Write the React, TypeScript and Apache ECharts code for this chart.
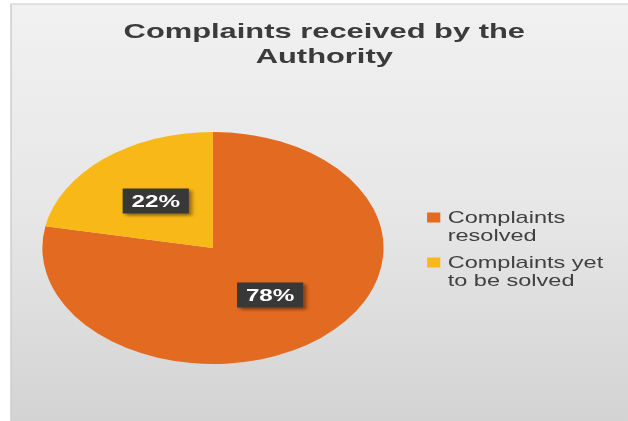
import React, { useEffect, useRef } from 'react';
import * as echarts from 'echarts';

// ---- data ----
const categories = ['Complaints resolved', 'Complaints yet to be solved'];
const legendLines = ['Complaints\nresolved', 'Complaints yet\nto be solved'];
const shares = [78, 22];
const sliceColors = ['#E36B21', '#F8B818'];
const titleText = 'Complaints received by the\nAuthority';

// ---- layout ----
const PAGE_W = 628;
const PAGE_H = 421;
const STRETCH = 1.4707; // the reference is stretched horizontally
const CHART_W = PAGE_W / STRETCH;
const FONT = '"Liberation Sans", Arial, Helvetica, sans-serif';
const legendTops = [190.5, 235.5];

export default function App() {
  const ref = useRef<HTMLDivElement>(null);

  useEffect(() => {
    const chart = echarts.init(ref.current as HTMLDivElement, null, {
      renderer: 'svg',
      width: CHART_W,
      height: PAGE_H,
    });
    chart.setOption({
      animation: false,
      backgroundColor: '#ffffff',
      graphic: {
        elements: [
          {
            type: 'rect',
            z: 0,
            silent: true,
            shape: { x: 7.5, y: 4, width: CHART_W + 10, height: PAGE_H + 10 },
            style: {
              fill: new echarts.graphic.LinearGradient(0, 0, 0, 1, [
                { offset: 0, color: '#f1f1f1' },
                { offset: 0.5, color: '#e6e6e6' },
                { offset: 1, color: '#d2d2d2' },
              ]),
              stroke: '#cccccc',
              lineWidth: 1,
            },
          },
        ],
      },
      title: {
        text: titleText,
        left: 220.5,
        top: 18,
        padding: 0,
        textAlign: 'center',
        textStyle: {
          fontSize: 21,
          fontWeight: 'bold',
          color: '#3b3b3b',
          lineHeight: 25,
          fontFamily: FONT,
        },
      },
      legend: categories.map((name, i) => ({
        data: [name],
        orient: 'vertical',
        left: 290.4,
        top: legendTops[i],
        padding: 0,
        itemWidth: 9,
        itemHeight: 10,
        itemGap: 0,
        icon: 'rect',
        selectedMode: false,
        formatter: () => '\n' + legendLines[i],
        textStyle: {
          fontSize: 16,
          lineHeight: 18,
          color: '#404040',
          fontFamily: FONT,
        },
      })),
      series: [
        {
          type: 'pie',
          center: [144.8, 248],
          radius: 116,
          startAngle: 90,
          clockwise: true,
          silent: true,
          color: sliceColors,
          data: categories.map((name, i) => ({ name, value: shares[i] })),
          itemStyle: { borderWidth: 0 },
          label: {
            show: true,
            position: 'inside',
            formatter: (p: any) => `${p.value}%`,
            color: '#ffffff',
            fontSize: 16.5,
            fontWeight: 'bold',
            fontFamily: FONT,
            lineHeight: 17,
            backgroundColor: '#383838',
            padding: [4, 6, 4, 6],
            shadowBlur: 3,
            shadowOffsetX: 2,
            shadowOffsetY: 2,
            shadowColor: 'rgba(0,0,0,0.45)',
          },
          labelLine: { show: false },
          emphasis: { disabled: true },
        },
      ],
    });
    return () => chart.dispose();
  }, []);

  return (
    <div
      style={{
        position: 'absolute',
        left: 0,
        top: 0,
        width: PAGE_W,
        height: PAGE_H,
        overflow: 'hidden',
        background: '#ffffff',
      }}
    >
      <div
        ref={ref}
        style={{
          width: CHART_W,
          height: PAGE_H,
          transform: `scaleX(${STRETCH})`,
          transformOrigin: '0 0',
        }}
      />
    </div>
  );
}
